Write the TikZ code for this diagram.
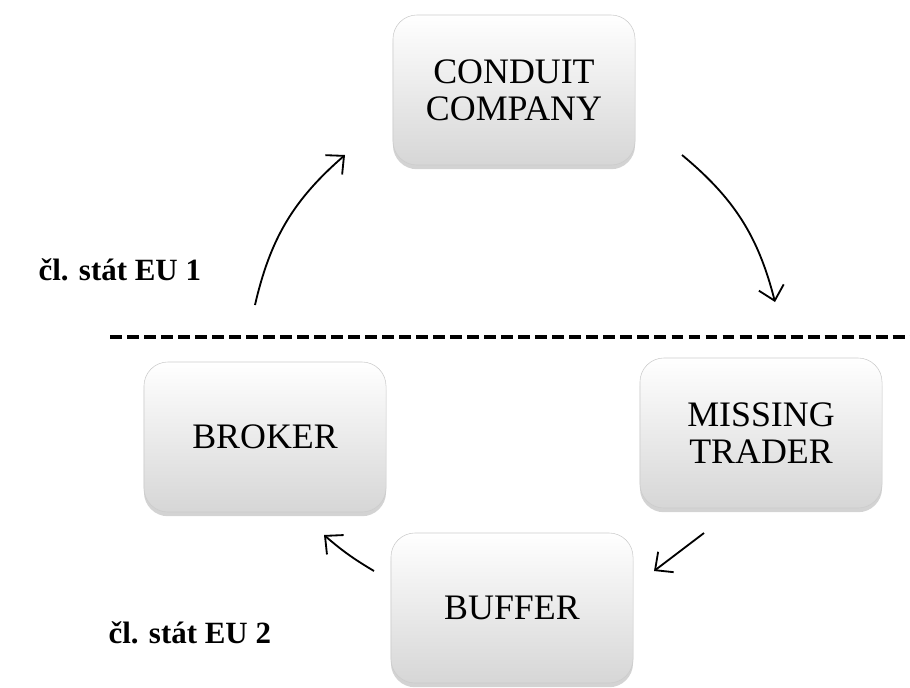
\documentclass[tikz,border=0pt]{standalone}
\usepackage{fontspec}
\setmainfont{Liberation Serif}
\usetikzlibrary{positioning,arrows.meta,shadows}
\tikzset{
  >={Straight Barb[length=3.4mm,width=6.4mm]},
  box/.style={
    rounded corners=0.6cm,
    align=center,
    line width=0.4pt,
    minimum width=6.05cm,
    minimum height=3.75cm,
    top color=white,
    bottom color=gray!32,
    draw=gray!40,
    drop shadow={opacity=0.35,shadow xshift=0pt,shadow yshift=-3pt},
    font=\fontsize{25.5}{26.5}\selectfont
  },
  state/.style={
    anchor=west,
    font=\fontsize{22}{24}\selectfont\bfseries
  }
}
\begin{document}
\begin{tikzpicture}[x=0.025cm, y=-0.025cm, line width=1.3pt]
  \useasboundingbox (0,0) rectangle (910,687);

  \node[box] (conduit) at (514,90) {CONDUIT\\COMPANY};
  \node[box] (missing) at (761,433) {MISSING\\TRADER};
  \node[box] (buffer) at (512,608) {BUFFER};
  \node[box] (broker) at (265,437) {BROKER};

  \node[state] (eu1) at (33,270) {čl. stát EU 1};
  \node[state] (eu2) at (103,633) {čl. stát EU 2};

  % border between the two states
  \coordinate (line-l) at (110,337);
  \coordinate (line-r) at (910,337);
  \draw[line width=3.3pt, dash pattern=on 8.5pt off 3.6pt] (line-l) -- (line-r);

  % ends of the arrows
  \coordinate (broker-out) at (255,305);
  \coordinate (conduit-in) at (345,155);
  \coordinate (conduit-out) at (682,155);
  \coordinate (missing-in) at (775,302);
  \coordinate (missing-out) at (704,533);
  \coordinate (buffer-in) at (654,571);
  \coordinate (buffer-out) at (374,571);
  \coordinate (broker-in) at (324,535);

  \draw[->] (broker-out) to[bend left=18] (conduit-in);
  \draw[->] (conduit-out) to[bend left=18] (missing-in);
  \draw[->] (missing-out) -- (buffer-in);
  \draw[->] (buffer-out) to[bend left=5] (broker-in);
\end{tikzpicture}
\end{document}
